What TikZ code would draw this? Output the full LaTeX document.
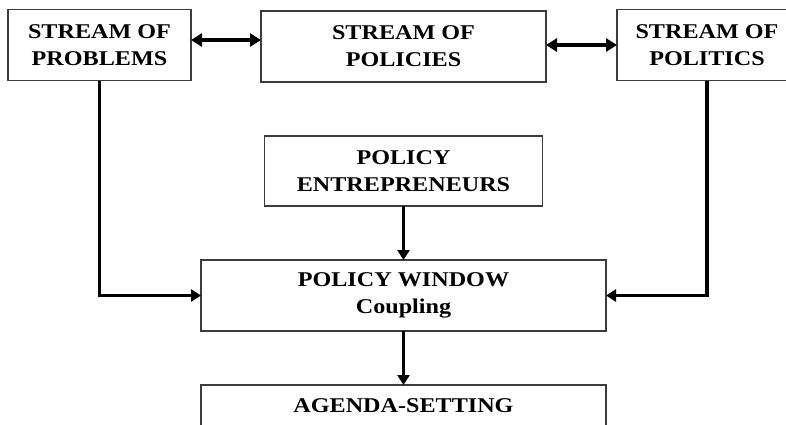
\documentclass[tikz,border=0pt]{standalone}
\usepackage{fontspec}
\setmainfont{Liberation Serif}[FakeStretch=1.15]
\usepackage{tikz}
\usetikzlibrary{arrows.meta}
\definecolor{boxline}{RGB}{60,60,60}

\begin{document}
\begin{tikzpicture}[x=1pt, y=-1pt,
    streambox/.style={draw=boxline, line width=1.2pt, fill=white, inner sep=0pt, outer sep=0pt,
        align=center, font=\fontsize{21}{27}\selectfont\bfseries, minimum height=71pt},
    flow/.style={line width=3.6pt, -{Triangle[length=10pt,width=12pt]}},
    both/.style={line width=3.6pt, {Triangle[length=11pt,width=13pt]}-{Triangle[length=11pt,width=13pt]}}]
    \useasboundingbox (0,0) rectangle (786,424);

    % Three streams
    \node[streambox, minimum width=183pt] (problems) at (99.5,45) {STREAM OF\\PROBLEMS};
    \node[streambox, minimum width=285pt] (policies) at (403.5,46.5) {STREAM OF\\POLICIES};
    \node[streambox, minimum width=180pt] (politics) at (707,45) {STREAM OF\\POLITICS};

    % Entrepreneurs, window, agenda
    \node[streambox, minimum width=278pt, minimum height=70pt] (entrepreneurs) at (403.5,171) {POLICY\\ENTREPRENEURS};
    \node[streambox, minimum width=405pt] (window) at (403.5,295.5) {POLICY WINDOW\\Coupling};
    \node[streambox, minimum width=405pt, minimum height=41pt] (agenda) at (403.5,405.5) {AGENDA-SETTING};

    % Links between streams
    \draw[both] ([yshift=5pt]problems.east) -- ([yshift=5pt]problems.east -| policies.west);
    \draw[both] (politics.west -| policies.east) -- (politics.west);

    % Streams into the window
    \draw[flow] (problems.south) |- (window.west);
    \draw[flow] (politics.south) |- (window.east);
    \draw[flow] (entrepreneurs.south) -- (window.north);
    \draw[flow] (window.south) -- (agenda.north);

\end{tikzpicture}
\end{document}
